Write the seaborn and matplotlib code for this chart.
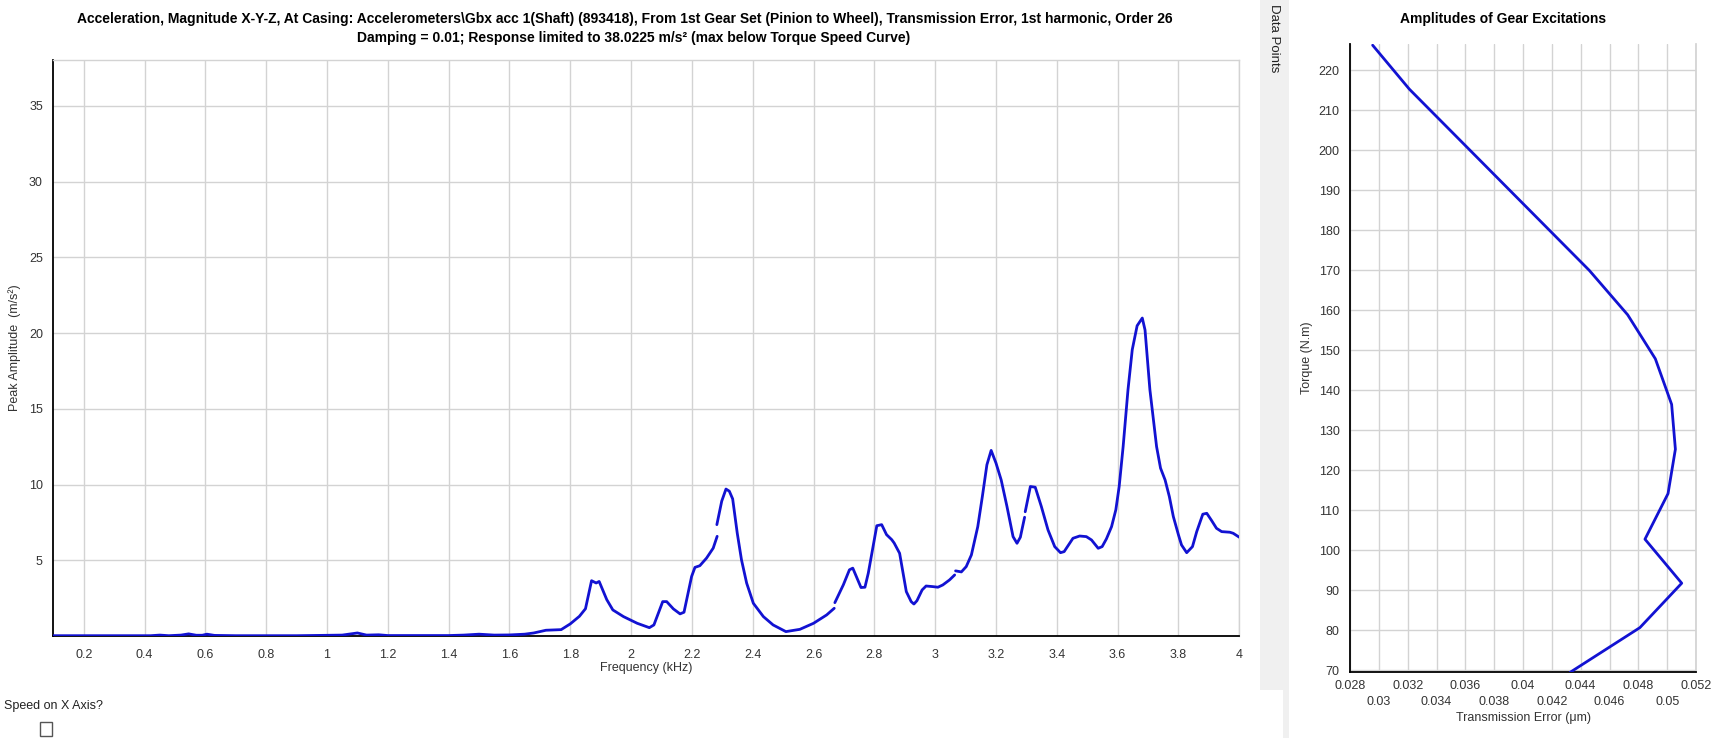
import numpy as np
import pandas as pd
import matplotlib
matplotlib.use("Agg")
import matplotlib.pyplot as plt
import seaborn as sns
from matplotlib.patches import Rectangle
from matplotlib.ticker import FixedLocator, FixedFormatter

# ---------------- data ----------------
seg0_freq = [0.1, 0.3, 0.42, 0.45, 0.48, 0.52, 0.545, 0.57, 0.59, 0.605, 0.63, 0.7, 0.9, 0.98,
             1.05, 1.1, 1.13, 1.17, 1.2, 1.4, 1.45, 1.5, 1.55, 1.6, 1.65, 1.68, 1.72, 1.77,
             1.8, 1.83, 1.85, 1.87, 1.885, 1.895, 1.92, 1.94, 1.975, 2.02, 2.06, 2.075,
             2.104, 2.117, 2.139, 2.161, 2.174, 2.199, 2.21, 2.226, 2.248, 2.27, 2.283]
seg0_amp = [0.02, 0.02, 0.02, 0.06, 0.02, 0.06, 0.14, 0.05, 0.05, 0.12, 0.04, 0.02, 0.02, 0.04,
            0.06, 0.2, 0.06, 0.08, 0.03, 0.03, 0.06, 0.12, 0.06, 0.07, 0.12, 0.2, 0.38, 0.42,
            0.8, 1.3, 1.8, 3.65, 3.5, 3.6, 2.4, 1.72, 1.28, 0.84, 0.55, 0.73,
            2.27, 2.27, 1.79, 1.46, 1.57, 3.93, 4.53, 4.64, 5.14, 5.8, 6.58]
seg1_freq = [2.282, 2.298, 2.312, 2.323, 2.334, 2.349, 2.363, 2.38, 2.402, 2.435, 2.467,
             2.509, 2.555, 2.6, 2.643, 2.668]
seg1_amp = [7.35, 8.9, 9.7, 9.56, 9.05, 6.8, 5.03, 3.49, 2.16, 1.28, 0.73,
            0.29, 0.44, 0.84, 1.39, 1.83]
seg2_freq = [2.67, 2.698, 2.718, 2.729, 2.756, 2.769, 2.78, 2.808, 2.824, 2.84, 2.857, 2.865,
             2.883, 2.905, 2.921, 2.93, 2.94, 2.957, 2.97, 2.992, 3.009, 3.025, 3.047, 3.064]
seg2_amp = [2.2, 3.38, 4.37, 4.48, 3.2, 3.22, 4.15, 7.28, 7.35, 6.69, 6.36, 6.14,
            5.46, 2.93, 2.27, 2.11, 2.33, 3.04, 3.3, 3.26, 3.22, 3.37, 3.7, 4.03]
seg3_freq = [3.067, 3.086, 3.102, 3.119, 3.14, 3.155, 3.17, 3.184, 3.2, 3.217, 3.236, 3.256,
             3.269, 3.28, 3.294]
seg3_amp = [4.3, 4.23, 4.58, 5.35, 7.22, 9.2, 11.3, 12.25, 11.41, 10.3, 8.55, 6.56,
            6.12, 6.52, 7.84]
seg4_freq = [3.296, 3.313, 3.329, 3.349, 3.371, 3.393, 3.412, 3.424, 3.453, 3.475, 3.497, 3.514,
             3.536, 3.549, 3.563, 3.58, 3.594, 3.605, 3.618, 3.634, 3.648, 3.664, 3.681, 3.69,
             3.706, 3.728, 3.741, 3.756, 3.77, 3.783, 3.8, 3.81, 3.827, 3.846, 3.86, 3.88,
             3.893, 3.909, 3.925, 3.942, 3.969, 3.98, 4.0]
seg4_amp = [8.2, 9.87, 9.82, 8.55, 7.0, 5.9, 5.5, 5.57, 6.45, 6.6, 6.56, 6.34,
            5.79, 5.9, 6.41, 7.22, 8.33, 9.87, 12.5, 16.26, 18.9, 20.48, 20.99, 20.2,
            16.26, 12.5, 11.08, 10.3, 9.2, 7.89, 6.67, 6.01, 5.5, 5.9, 6.89, 8.04,
            8.1, 7.62, 7.11, 6.89, 6.85, 6.78, 6.52]

te_values = [0.02957, 0.03212, 0.0446, 0.04726, 0.04918, 0.05031, 0.05057, 0.05006,
             0.04846, 0.05101, 0.04811, 0.04326]
torque_values = [226.3, 215.3, 170.0, 158.9, 147.9, 136.5, 125.3, 114.2,
                 102.8, 91.8, 80.7, 69.5]

freq_ticks = [0.2, 0.4, 0.6, 0.8, 1, 1.2, 1.4, 1.6, 1.8, 2, 2.2, 2.4, 2.6, 2.8, 3, 3.2,
              3.4, 3.6, 3.8, 4]
amp_ticks = [5, 10, 15, 20, 25, 30, 35]
te_major = [0.028, 0.032, 0.036, 0.04, 0.044, 0.048, 0.052]
te_minor = [0.03, 0.034, 0.038, 0.042, 0.046, 0.05]
torque_ticks = [70, 80, 90, 100, 110, 120, 130, 140, 150, 160, 170, 180, 190, 200, 210, 220]

title1 = ("Acceleration, Magnitude X-Y-Z, At Casing: Accelerometers\\Gbx acc 1(Shaft) (893418), "
          "From 1st Gear Set (Pinion to Wheel), Transmission Error, 1st harmonic, Order 26")
title2 = "Damping = 0.01; Response limited to 38.0225 m/s\u00b2 (max below Torque Speed Curve)"

segs = [(seg0_freq, seg0_amp), (seg1_freq, seg1_amp), (seg2_freq, seg2_amp),
        (seg3_freq, seg3_amp), (seg4_freq, seg4_amp)]
df = pd.concat([pd.DataFrame({"freq": f, "amp": a, "seg": i}) for i, (f, a) in enumerate(segs)],
               ignore_index=True)
df2 = pd.DataFrame({"te": te_values, "torque": torque_values})

# ---------------- style ----------------
sns.set_theme(style="white")
plt.rcParams["font.family"] = ["Liberation Sans", "DejaVu Sans"]

BLUE = "#1212d2"
GRID = "#d3d3d3"
W, H = 1712, 738
fig = plt.figure(figsize=(W / 100, H / 100), dpi=100)
fig.patch.set_facecolor("white")


def fx(px):
    return px / W


def fy(py):
    return 1 - py / H


# grey "Data Points" strip
fig.patches.append(Rectangle((fx(1260), fy(690)), fx(29), 690 / H, transform=fig.transFigure,
                             facecolor="#f0f0f0", edgecolor="none", zorder=0))
fig.patches.append(Rectangle((fx(1283), 0), fx(6), 48 / H, transform=fig.transFigure,
                             facecolor="#f0f0f0", edgecolor="none", zorder=0))
fig.text(fx(1274), fy(4), "Data Points", rotation=270, ha="center", va="top",
         fontsize=9.5, color="#222222")

# ---------------- main chart ----------------
ax = fig.add_axes([fx(53.3), fy(636), fx(1239.3 - 53.3), (636 - 60) / H])
sns.lineplot(data=df, x="freq", y="amp", units="seg", estimator=None, sort=False,
             color=BLUE, lw=2, ax=ax, legend=False, zorder=3)
ax.set_xlim(0.1, 4.0)
ax.set_ylim(0, 38.0225)
ax.set_xticks(freq_ticks)
ax.set_xticklabels([f"{v:g}" for v in freq_ticks])
ax.set_yticks(amp_ticks)
ax.set_yticklabels([f"{v:g}" for v in amp_ticks])
ax.grid(True, color=GRID, lw=1)
ax.set_axisbelow(True)
ax.tick_params(direction="inout", length=9, width=1, color="black", labelsize=9,
               labelcolor="#333333", pad=3)
ax.tick_params(axis="x", pad=5)
for s in ["left", "bottom"]:
    ax.spines[s].set_color("black")
    ax.spines[s].set_linewidth(1.3)
for s in ["top", "right"]:
    ax.spines[s].set_color(GRID)
    ax.spines[s].set_linewidth(1)
ax.set_xlabel("")
ax.set_ylabel("")
fig.text(fx(646), fy(668), "Frequency (kHz)", ha="center", va="center", fontsize=9,
         color="#333333")
fig.text(fx(15), fy(348), "Peak Amplitude  (m/s\u00b2)", ha="center", va="center",
         rotation=90, fontsize=9, color="#333333")

fig.text(fx(625), fy(18.5), title1, ha="center", va="center", fontsize=10,
         fontweight="bold", color="black")
fig.text(fx(634), fy(38), title2, ha="center", va="center", fontsize=10,
         fontweight="bold", color="black")

# Speed on X axis + checkbox
fig.text(fx(4), fy(706), "Speed on X Axis?", ha="left", va="center", fontsize=9,
         color="#222222")
fig.patches.append(Rectangle((fx(40), fy(736)), fx(12), 14 / H, transform=fig.transFigure,
                             facecolor="white", edgecolor="#555555", lw=1))

# ---------------- right chart ----------------
ax2 = fig.add_axes([fx(1350), fy(672), fx(346), (672 - 44) / H])
sns.lineplot(data=df2, x="te", y="torque", estimator=None, sort=False, color=BLUE, lw=2,
             ax=ax2, legend=False, zorder=3)
ax2.set_xlim(0.028, 0.052)
ax2.set_ylim(69.6, 226.6)
ax2.xaxis.set_major_locator(FixedLocator(te_major))
ax2.xaxis.set_major_formatter(FixedFormatter([f"{v:g}" for v in te_major]))
ax2.xaxis.set_minor_locator(FixedLocator(te_minor))
ax2.xaxis.set_minor_formatter(FixedFormatter([f"{v:g}" for v in te_minor]))
ax2.set_yticks(torque_ticks)
ax2.set_yticklabels([str(v) for v in torque_ticks])
ax2.grid(True, which="both", color=GRID, lw=1)
ax2.set_axisbelow(True)
ax2.tick_params(which="both", direction="inout", length=9, width=1, color="black",
                labelsize=9, labelcolor="#333333")
ax2.tick_params(axis="x", which="major", pad=1)
ax2.tick_params(axis="x", which="minor", pad=13)
ax2.tick_params(axis="y", pad=3)
for s in ["left", "bottom"]:
    ax2.spines[s].set_color("black")
    ax2.spines[s].set_linewidth(1.3)
ax2.spines["top"].set_visible(False)
ax2.spines["right"].set_color(GRID)
ax2.set_xlabel("")
ax2.set_ylabel("")
fig.text(fx(1523), fy(718), "Transmission Error (\u03bcm)", ha="center", va="center",
         fontsize=9, color="#333333")
fig.text(fx(1307), fy(358), "Torque (N.m)", ha="center", va="center", rotation=90,
         fontsize=9, color="#333333")
fig.text(fx(1503), fy(18.5), "Amplitudes of Gear Excitations", ha="center", va="center",
         fontsize=10, fontweight="bold", color="black")

fig.savefig("out.png", dpi=100, facecolor="white")
